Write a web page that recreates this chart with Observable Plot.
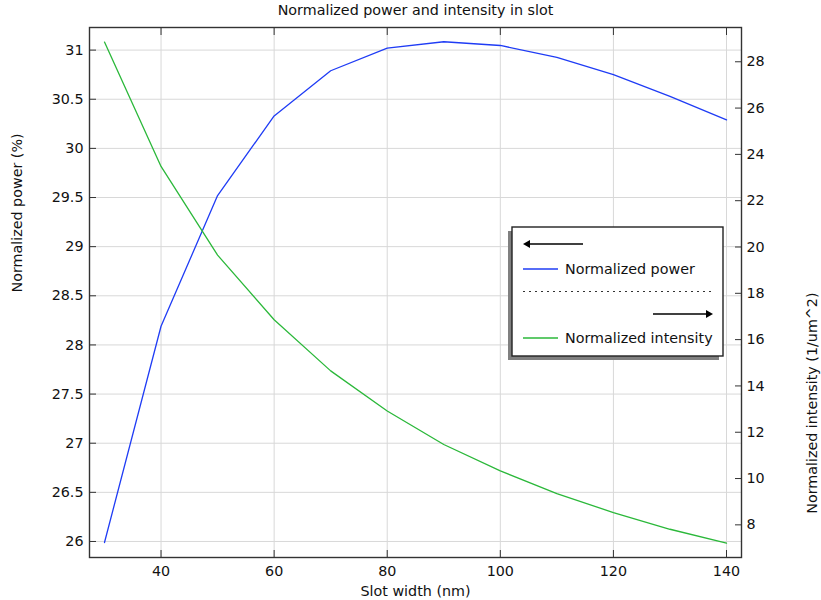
<!DOCTYPE html>
<html>
<head>
<meta charset="utf-8">
<script src="https://cdn.jsdelivr.net/npm/d3@7"></script>
<script src="https://cdn.jsdelivr.net/npm/@observablehq/plot@0.6"></script>
<style>
  html, body { margin: 0; padding: 0; background: #fff; }
  #chart { position: relative; width: 821px; height: 600px; }
</style>
</head>
<body>
<div id="chart"></div>
<script>
// ---- data ----
const slotWidth = [30, 40, 50, 60, 70, 80, 90, 100, 110, 120, 130, 140];
const normalizedPower = [25.99, 28.19, 29.52, 30.33, 30.79, 31.02, 31.085, 31.047, 30.925, 30.75, 30.53, 30.29];
const normalizedIntensity = [28.85, 23.48, 19.65, 16.86, 14.65, 12.92, 11.47, 10.33, 9.35, 8.53, 7.81, 7.21];
const xTicks = [40, 60, 80, 100, 120, 140];
const leftTicks = [26, 26.5, 27, 27.5, 28, 28.5, 29, 29.5, 30, 30.5, 31];
const rightTicks = [8, 10, 12, 14, 16, 18, 20, 22, 24, 26, 28];

const titleText = "Normalized power and intensity in slot";
const xLabel = "Slot width (nm)";
const leftLabel = "Normalized power (%)";
const rightLabel = "Normalized intensity (1/um^2)";
const legendLabels = ["Normalized power", "Normalized intensity"];

// ---- scales ----
const xDomain = [27.35, 142.65];
const leftDomain = [25.837, 31.23];
const rightDomain = [6.59, 29.48];
const toLeft = d3.scaleLinear().domain(rightDomain).range(leftDomain);

const blue = "#1f3cf5";
const green = "#2bb83a";
const font = "DejaVu Sans, sans-serif";
const fs = 14.3;

const powerData = slotWidth.map((x, i) => ({x, y: normalizedPower[i]}));
const intensityData = slotWidth.map((x, i) => ({x, y: toLeft(normalizedIntensity[i])}));

const W = 821, H = 600, mL = 89, mR = 80, mT = 27, mB = 43;

const plot = Plot.plot({
  width: W,
  height: H,
  marginLeft: mL,
  marginRight: mR,
  marginTop: mT,
  marginBottom: mB,
  style: {fontFamily: font, fontSize: fs + "px", color: "#111", background: "#fff"},
  x: {domain: xDomain},
  y: {domain: leftDomain},
  marks: [
    Plot.gridX(xTicks, {stroke: "#d8d8d8", strokeOpacity: 1}),
    Plot.gridY(leftTicks, {stroke: "#d8d8d8", strokeOpacity: 1}),
    Plot.line(powerData, {x: "x", y: "y", stroke: blue, strokeWidth: 1.3}),
    Plot.line(intensityData, {x: "x", y: "y", stroke: green, strokeWidth: 1.3}),
    Plot.frame({stroke: "#333", strokeWidth: 1.4}),
    Plot.axisX(xTicks, {anchor: "bottom", tickSize: -7, tickPadding: 15, label: null, stroke: "#333", fontSize: fs}),
    Plot.axisX(xTicks, {anchor: "top", tickSize: -7, tickFormat: () => "", label: null, stroke: "#333"}),
    Plot.axisY(leftTicks, {anchor: "left", tickSize: -7, tickPadding: 13, label: null, stroke: "#333", fontSize: fs, tickFormat: d => String(d)}),
    Plot.axisY(rightTicks.map(toLeft), {anchor: "right", tickSize: -7, tickPadding: 12, label: null, stroke: "#333", fontSize: fs,
      tickFormat: d => String(Math.round(toLeft.invert(d)))}),
    Plot.text([titleText], {frameAnchor: "top", dy: -23, fontSize: fs, fill: "#111"}),
    Plot.text([xLabel], {frameAnchor: "bottom", dy: 38, fontSize: fs, fill: "#111"}),
    Plot.text([leftLabel], {frameAnchor: "left", dx: -72, rotate: -90, fontSize: fs, fill: "#111"}),
    Plot.text([rightLabel], {frameAnchor: "right", dx: 71, rotate: -90, fontSize: fs, fill: "#111"})
  ]
});

document.getElementById("chart").appendChild(plot);

// ---- legend (drawn into the plot svg) ----
const svg = d3.select(plot);
const lg = svg.append("g").attr("font-family", font).attr("font-size", fs).attr("text-anchor", "start");
const bx = 512, by = 227, bw = 211, bh = 129;
// shadow
lg.append("rect").attr("x", bx - 4).attr("y", by + 4).attr("width", bw).attr("height", bh).attr("fill", "#808080");
lg.append("rect").attr("x", bx).attr("y", by).attr("width", bw).attr("height", bh)
  .attr("fill", "#fff").attr("stroke", "#222").attr("stroke-width", 1.4);
// left arrow
lg.append("line").attr("x1", 528).attr("x2", 583).attr("y1", 244).attr("y2", 244).attr("stroke", "#000").attr("stroke-width", 1.6);
lg.append("path").attr("d", "M523,244 L530,240 L530,248 Z").attr("fill", "#000");
// power entry
lg.append("line").attr("x1", 523).attr("x2", 558).attr("y1", 269).attr("y2", 269).attr("stroke", blue).attr("stroke-width", 1.3);
lg.append("text").attr("x", 565).attr("y", 269).attr("dy", "0.35em").attr("fill", "#111").attr("text-anchor", "start").text(legendLabels[0]);
// dotted separator
lg.append("line").attr("x1", 523).attr("x2", 714).attr("y1", 291.5).attr("y2", 291.5)
  .attr("stroke", "#333").attr("stroke-width", 1.2).attr("stroke-dasharray", "2,4");
// right arrow
lg.append("line").attr("x1", 653).attr("x2", 708).attr("y1", 314).attr("y2", 314).attr("stroke", "#000").attr("stroke-width", 1.6);
lg.append("path").attr("d", "M713,314 L706,310 L706,318 Z").attr("fill", "#000");
// intensity entry
lg.append("line").attr("x1", 523).attr("x2", 558).attr("y1", 338).attr("y2", 338).attr("stroke", green).attr("stroke-width", 1.3);
lg.append("text").attr("x", 565).attr("y", 338).attr("dy", "0.35em").attr("fill", "#111").attr("text-anchor", "start").text(legendLabels[1]);
</script>
</body>
</html>
